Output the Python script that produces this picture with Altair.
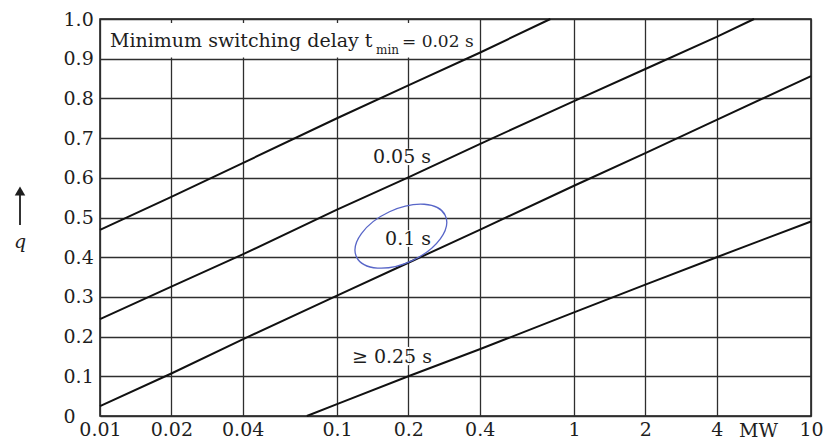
import altair as alt
import pandas as pd

# ---- data ----
x_002 = [0.01, 0.02, 0.04, 0.1, 0.2, 0.4, 0.795]
q_002 = [0.469, 0.552, 0.637, 0.75, 0.833, 0.915, 1.0]
x_005 = [0.01, 0.02, 0.04, 0.1, 0.2, 0.4, 1, 2, 4, 5.75]
q_005 = [0.244, 0.326, 0.407, 0.52, 0.601, 0.685, 0.793, 0.874, 0.955, 1.0]
x_01 = [0.01, 0.02, 0.04, 0.1, 0.2, 0.4, 1, 2, 4, 10]
q_01 = [0.025, 0.107, 0.193, 0.303, 0.386, 0.469, 0.58, 0.662, 0.746, 0.856]
x_025 = [0.0746, 0.1, 0.2, 0.4, 1, 2, 4, 10]
q_025 = [0.0, 0.03, 0.10, 0.168, 0.261, 0.331, 0.4, 0.49]

x_ticks = [0.01, 0.02, 0.04, 0.1, 0.2, 0.4, 1, 2, 4, 10]
y_ticks = [0, 0.1, 0.2, 0.3, 0.4, 0.5, 0.6, 0.7, 0.8, 0.9, 1.0]

label_text = ["0.05 s", "0.1 s", "\u2265 0.25 s"]
label_x = [0.188, 0.1995, 0.1706]
label_y = [0.652, 0.446, 0.149]
label_y_lo = [0.632, 0.426, 0.128]
label_y_hi = [0.673, 0.468, 0.174]

FONT = "DejaVu Serif"
TXT = "#1e1e1e"
W, H = 711, 397

rows = []
for name, xs, qs in [("0.02 s", x_002, q_002), ("0.05 s", x_005, q_005),
                     ("0.1 s", x_01, q_01), ("0.25 s", x_025, q_025)]:
    for xv, qv in zip(xs, qs):
        rows.append({"series": name, "P": xv, "q": qv})
df = pd.DataFrame(rows)

xscale = alt.Scale(type="log", domain=[0.01, 10])
yscale = alt.Scale(domain=[0, 1])

xaxis = alt.Axis(values=x_ticks, format=".2~f", grid=True, ticks=False, domain=False,
                 labelFont=FONT, labelFontSize=19, labelColor=TXT, labelPadding=4,
                 labelFlush=False, labelOverlap=False, gridColor="#2e2e2e", gridWidth=1.3,
                 gridOpacity=1, title=None)
yaxis = alt.Axis(values=y_ticks, labelExpr="datum.value == 0 ? '0' : format(datum.value, '.1f')",
                 grid=True, ticks=False, domain=False, labelFont=FONT, labelFontSize=19,
                 labelColor=TXT, labelAlign="left", labelPadding=37, labelFlush=False,
                 labelOverlap=False, gridColor="#2e2e2e", gridWidth=1.3, gridOpacity=1, title=None)


def X(field):
    return alt.X(field, scale=xscale, axis=xaxis)


def Y(field):
    return alt.Y(field, scale=yscale, axis=yaxis)


base_lines = alt.Chart(df).mark_line(color="#111", strokeWidth=2).encode(
    x=X("P:Q"), y=Y("q:Q"), detail="series:N")

# white box behind the header text
box_df = pd.DataFrame({"x1": [0.0102], "x2": [0.394], "y1": [0.903], "y2": [0.99]})
box = alt.Chart(box_df).mark_rect(color="white").encode(
    x=X("x1:Q"), x2="x2:Q", y=Y("y1:Q"), y2="y2:Q")

lab_df = pd.DataFrame({"text": label_text, "x": label_x, "y": label_y,
                       "ylo": label_y_lo, "yhi": label_y_hi})
lab_bg = alt.Chart(lab_df).transform_calculate(
    xl="datum.x * 0.88", xr="datum.x * 1.18"
).mark_rect(color="white").encode(
    x=X("xl:Q"), x2="xr:Q", y=Y("ylo:Q"), y2="yhi:Q")

labels = alt.Chart(lab_df).mark_text(font=FONT, fontSize=19, color=TXT,
                                     align="center", baseline="middle").encode(
    x=X("x:Q"), y=Y("y:Q"), text="text:N")

# header text
hdr_df = pd.DataFrame({"t1": ["Minimum switching delay t"], "t2": ["min"], "t3": ["= 0.02 s"]})
hdr1 = alt.Chart(hdr_df).mark_text(font=FONT, fontSize=19, color=TXT, align="left",
                                   baseline="alphabetic").encode(
    x=alt.value(10), y=alt.value(28), text="t1:N")
hdr2 = alt.Chart(hdr_df).mark_text(font=FONT, fontSize=12, color=TXT, align="left",
                                   baseline="alphabetic").encode(
    x=alt.value(276), y=alt.value(35), text="t2:N")
hdr3 = alt.Chart(hdr_df).mark_text(font=FONT, fontSize=17, color=TXT, align="left",
                                   baseline="alphabetic").encode(
    x=alt.value(302), y=alt.value(28), text="t3:N")

# unit label on x axis
mw_df = pd.DataFrame({"x": [6.0], "t": ["MW"]})
mw = alt.Chart(mw_df).mark_text(font=FONT, fontSize=19, color=TXT, align="center",
                                baseline="middle").encode(
    x=X("x:Q"), y=alt.value(H + 15), text="t:N")

# y axis title: arrow and q
ttl_df = pd.DataFrame({"t": ["q"]})
arrow_shaft = alt.Chart(ttl_df).mark_rule(color=TXT, strokeWidth=1.8).encode(
    x=alt.value(-80), y=alt.value(175), y2=alt.value(206))
arrow_head = alt.Chart(ttl_df).mark_point(shape="triangle-up", filled=True, color=TXT,
                                          size=110, opacity=1).encode(
    x=alt.value(-80), y=alt.value(172))
qlab = alt.Chart(ttl_df).mark_text(font=FONT, fontSize=19, fontStyle="italic", color=TXT,
                                   align="center", baseline="middle").encode(
    x=alt.value(-80), y=alt.value(223), text="t:N")

# hand-drawn blue ellipse around "0.1 s"
ell_df = pd.DataFrame({"x": [0.186], "y": [0.453]})
ellipse = alt.Chart(ell_df).mark_point(
    shape="M -1 0 A 1 0.55 0 1 1 1 0 A 1 0.55 0 1 1 -1 0 Z",
    size=9600, filled=False, color="#5866c8", strokeWidth=1.3, opacity=1, angle=335
).encode(x=X("x:Q"), y=Y("y:Q"))

chart = alt.layer(
    box, lab_bg, base_lines, labels, hdr1, hdr2, hdr3, mw,
    arrow_shaft, arrow_head, qlab, ellipse
).properties(
    width=W, height=H,
    autosize=alt.AutoSizeParams(type="none"),
    padding={"left": 100, "top": 19, "right": 14, "bottom": 29},
    background="white",
).configure_view(stroke="#111", strokeWidth=1.5)

chart.save("out.html", embed_options={"renderer": "svg", "actions": False})
